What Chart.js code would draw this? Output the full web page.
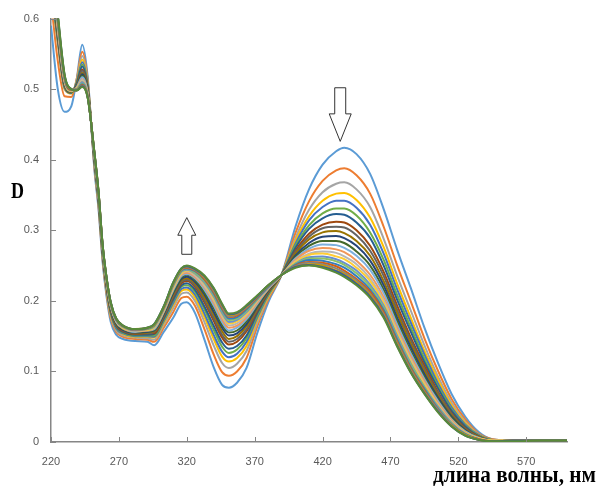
<!DOCTYPE html>
<html>
<head>
<meta charset="utf-8">
<script src="https://cdn.jsdelivr.net/npm/chart.js@4.4.0/dist/chart.umd.min.js"></script>
<style>
  html, body { margin: 0; padding: 0; background: #fff; }
  canvas { display: block; }
</style>
</head>
<body>
<canvas id="chart" width="598" height="490"></canvas>
<script>
// длины волн, нм
const wavelengths = [220,225,230,235,239,243,247, 252,255,258,261,264,268,273,282,291,296, 303,310,316,320,326,333,340,346,351,357, 364,372,380,390,400,410,420,430,436,445, 455,465,475,485,495,505,515,525,535,545, 560,580,600];

// оптическая плотность, спектры по порядку съёмки
const s1  = [0.590,0.500,0.468,0.476,0.515,0.563,0.518, 0.385,0.330,0.255,0.205,0.170,0.152,0.146,0.143,0.142,0.137, 0.156,0.176,0.196,0.198,0.183,0.145,0.105,0.081,0.077,0.084, 0.105,0.155,0.198,0.238,0.305,0.358,0.393,0.412,0.417,0.408, 0.380,0.330,0.272,0.218,0.162,0.112,0.068,0.036,0.014,0.004, 0.002,0.002,0.002];
const s2  = [0.625,0.540,0.490,0.489,0.515,0.553,0.513, 0.389,0.334,0.259,0.209,0.175,0.156,0.149,0.146,0.145,0.142, 0.162,0.184,0.204,0.206,0.193,0.160,0.123,0.099,0.094,0.100, 0.119,0.164,0.202,0.238,0.296,0.341,0.370,0.385,0.388,0.378, 0.352,0.305,0.250,0.199,0.147,0.101,0.061,0.032,0.012,0.004, 0.002,0.002,0.002];
const s3  = [0.640,0.565,0.500,0.494,0.513,0.547,0.510, 0.392,0.337,0.262,0.212,0.178,0.158,0.151,0.148,0.147,0.145, 0.166,0.190,0.210,0.212,0.200,0.170,0.136,0.112,0.105,0.111, 0.129,0.169,0.205,0.238,0.289,0.329,0.354,0.366,0.368,0.358, 0.333,0.288,0.235,0.186,0.137,0.093,0.056,0.029,0.011,0.003, 0.002,0.002,0.002];
const s4  = [0.643,0.567,0.501,0.494,0.511,0.542,0.508, 0.394,0.339,0.264,0.214,0.180,0.160,0.153,0.149,0.149,0.148, 0.169,0.194,0.214,0.216,0.205,0.177,0.145,0.121,0.114,0.119, 0.136,0.174,0.206,0.238,0.285,0.320,0.342,0.352,0.353,0.343, 0.318,0.276,0.224,0.176,0.129,0.088,0.052,0.027,0.010,0.003, 0.002,0.002,0.002];
const s5  = [0.646,0.569,0.502,0.495,0.510,0.538,0.506, 0.395,0.340,0.265,0.216,0.182,0.161,0.154,0.150,0.150,0.149, 0.171,0.197,0.217,0.219,0.209,0.182,0.151,0.128,0.120,0.125, 0.142,0.177,0.208,0.238,0.281,0.314,0.333,0.342,0.342,0.332, 0.308,0.267,0.216,0.169,0.124,0.083,0.049,0.025,0.010,0.003, 0.002,0.002,0.002];
const s6  = [0.649,0.571,0.503,0.495,0.509,0.535,0.504, 0.397,0.342,0.267,0.218,0.183,0.163,0.155,0.151,0.151,0.151, 0.173,0.200,0.220,0.222,0.213,0.188,0.158,0.135,0.126,0.131, 0.147,0.180,0.209,0.238,0.278,0.307,0.324,0.331,0.331,0.321, 0.297,0.258,0.208,0.162,0.118,0.079,0.046,0.023,0.009,0.003, 0.002,0.002,0.002];
const s7  = [0.652,0.573,0.504,0.495,0.508,0.532,0.502, 0.398,0.343,0.268,0.219,0.185,0.164,0.156,0.152,0.152,0.153, 0.175,0.202,0.222,0.225,0.216,0.192,0.164,0.141,0.132,0.136, 0.151,0.183,0.211,0.238,0.275,0.302,0.317,0.323,0.322,0.311, 0.289,0.250,0.201,0.156,0.113,0.076,0.044,0.022,0.008,0.002, 0.002,0.002,0.002];
const s8  = [0.655,0.575,0.505,0.496,0.506,0.528,0.501, 0.400,0.345,0.270,0.221,0.186,0.165,0.157,0.153,0.154,0.154, 0.177,0.205,0.225,0.228,0.220,0.198,0.171,0.148,0.138,0.142, 0.157,0.186,0.212,0.237,0.271,0.295,0.308,0.312,0.311,0.300, 0.278,0.241,0.193,0.148,0.108,0.071,0.041,0.020,0.008,0.002, 0.002,0.002,0.002];
const s9  = [0.658,0.577,0.506,0.496,0.506,0.526,0.499, 0.401,0.346,0.271,0.222,0.187,0.166,0.158,0.154,0.154,0.156, 0.178,0.207,0.227,0.230,0.222,0.201,0.175,0.152,0.142,0.146, 0.160,0.188,0.213,0.237,0.269,0.291,0.303,0.305,0.304,0.293, 0.271,0.235,0.187,0.144,0.104,0.069,0.040,0.019,0.007,0.002, 0.002,0.002,0.002];
const s10 = [0.661,0.579,0.507,0.496,0.505,0.523,0.498, 0.402,0.347,0.272,0.223,0.189,0.167,0.159,0.154,0.155,0.157, 0.180,0.209,0.229,0.232,0.225,0.205,0.180,0.157,0.146,0.150, 0.164,0.190,0.214,0.237,0.267,0.287,0.297,0.299,0.296,0.285, 0.264,0.228,0.182,0.139,0.100,0.066,0.038,0.018,0.007,0.002, 0.002,0.002,0.002];
const s11 = [0.664,0.581,0.508,0.497,0.504,0.521,0.497, 0.403,0.348,0.273,0.224,0.190,0.168,0.159,0.155,0.156,0.158, 0.181,0.211,0.231,0.234,0.227,0.209,0.184,0.162,0.151,0.154, 0.167,0.192,0.215,0.237,0.264,0.282,0.291,0.292,0.289,0.278, 0.257,0.222,0.176,0.134,0.096,0.063,0.036,0.017,0.006,0.002, 0.002,0.002,0.002];
const s12 = [0.667,0.583,0.509,0.497,0.503,0.519,0.496, 0.404,0.349,0.274,0.225,0.191,0.169,0.160,0.156,0.157,0.159, 0.183,0.213,0.233,0.237,0.230,0.212,0.189,0.166,0.155,0.158, 0.171,0.194,0.216,0.237,0.262,0.278,0.285,0.285,0.282,0.270, 0.250,0.216,0.171,0.129,0.092,0.060,0.034,0.016,0.006,0.002, 0.002,0.002,0.002];
const s13 = [0.670,0.585,0.510,0.497,0.503,0.517,0.495, 0.404,0.349,0.274,0.226,0.192,0.170,0.161,0.156,0.158,0.160, 0.184,0.215,0.235,0.238,0.232,0.216,0.193,0.170,0.158,0.162, 0.174,0.196,0.217,0.237,0.260,0.274,0.280,0.279,0.275,0.264, 0.244,0.211,0.166,0.125,0.089,0.058,0.032,0.015,0.006,0.002, 0.002,0.002,0.002];
const s14 = [0.673,0.587,0.511,0.498,0.502,0.514,0.494, 0.405,0.350,0.275,0.227,0.193,0.171,0.161,0.157,0.158,0.161, 0.185,0.217,0.237,0.240,0.234,0.219,0.197,0.174,0.162,0.165, 0.177,0.198,0.217,0.237,0.258,0.271,0.275,0.273,0.269,0.257, 0.237,0.205,0.161,0.121,0.086,0.055,0.031,0.014,0.005,0.002, 0.002,0.002,0.002];
const s15 = [0.676,0.589,0.512,0.498,0.501,0.513,0.493, 0.406,0.351,0.276,0.228,0.194,0.171,0.162,0.157,0.159,0.162, 0.186,0.218,0.238,0.242,0.236,0.221,0.200,0.178,0.165,0.168, 0.180,0.200,0.218,0.237,0.256,0.267,0.270,0.268,0.263,0.252, 0.232,0.201,0.157,0.117,0.083,0.053,0.029,0.013,0.005,0.002, 0.002,0.002,0.002];
const s16 = [0.679,0.591,0.513,0.498,0.501,0.511,0.492, 0.407,0.352,0.277,0.228,0.194,0.172,0.162,0.158,0.159,0.163, 0.187,0.219,0.239,0.243,0.238,0.224,0.203,0.181,0.168,0.171, 0.182,0.201,0.219,0.237,0.255,0.265,0.267,0.263,0.259,0.247, 0.228,0.197,0.154,0.114,0.081,0.052,0.028,0.013,0.005,0.002, 0.002,0.002,0.002];
const s17 = [0.682,0.593,0.514,0.499,0.500,0.510,0.491, 0.407,0.352,0.277,0.229,0.195,0.173,0.163,0.158,0.160,0.164, 0.188,0.221,0.241,0.244,0.239,0.226,0.206,0.183,0.170,0.173, 0.184,0.202,0.219,0.237,0.253,0.262,0.263,0.259,0.254,0.243, 0.223,0.193,0.150,0.111,0.078,0.050,0.027,0.012,0.004,0.001, 0.002,0.002,0.002];
const s18 = [0.685,0.595,0.515,0.499,0.500,0.508,0.491, 0.408,0.353,0.278,0.230,0.196,0.173,0.163,0.159,0.160,0.164, 0.189,0.222,0.242,0.245,0.240,0.228,0.208,0.186,0.173,0.175, 0.186,0.203,0.220,0.237,0.252,0.260,0.260,0.256,0.251,0.239, 0.220,0.190,0.147,0.109,0.077,0.048,0.026,0.011,0.004,0.001, 0.002,0.002,0.002];
const s19 = [0.688,0.597,0.516,0.499,0.499,0.507,0.490, 0.408,0.353,0.278,0.230,0.196,0.173,0.164,0.159,0.161,0.165, 0.190,0.223,0.243,0.246,0.242,0.230,0.210,0.188,0.175,0.177, 0.188,0.204,0.220,0.237,0.251,0.258,0.257,0.252,0.247,0.235, 0.216,0.187,0.145,0.106,0.075,0.047,0.025,0.011,0.004,0.001, 0.002,0.002,0.002];
const s20 = [0.691,0.599,0.517,0.499,0.499,0.506,0.490, 0.409,0.354,0.279,0.231,0.197,0.174,0.164,0.159,0.161,0.166, 0.190,0.224,0.244,0.247,0.243,0.231,0.212,0.190,0.177,0.179, 0.190,0.205,0.221,0.237,0.250,0.255,0.254,0.249,0.243,0.231, 0.213,0.184,0.142,0.104,0.073,0.046,0.024,0.010,0.004,0.001, 0.002,0.002,0.002];
const s21 = [0.694,0.601,0.518,0.500,0.499,0.505,0.489, 0.409,0.354,0.279,0.231,0.197,0.174,0.164,0.159,0.161,0.166, 0.191,0.224,0.244,0.248,0.244,0.233,0.214,0.192,0.178,0.181, 0.191,0.206,0.221,0.237,0.249,0.254,0.252,0.246,0.240,0.229, 0.210,0.181,0.140,0.102,0.071,0.045,0.024,0.010,0.003,0.001, 0.002,0.002,0.002];
const s22 = [0.697,0.603,0.519,0.500,0.498,0.504,0.488, 0.410,0.355,0.280,0.231,0.197,0.175,0.165,0.160,0.162,0.166, 0.191,0.225,0.245,0.249,0.245,0.234,0.216,0.194,0.180,0.182, 0.192,0.207,0.222,0.237,0.248,0.252,0.250,0.243,0.238,0.226, 0.208,0.179,0.138,0.100,0.070,0.043,0.023,0.010,0.003,0.001, 0.002,0.002,0.002];
const s23 = [0.700,0.605,0.520,0.500,0.498,0.504,0.488, 0.410,0.355,0.280,0.232,0.198,0.175,0.165,0.160,0.162,0.167, 0.192,0.226,0.246,0.249,0.245,0.235,0.217,0.195,0.181,0.183, 0.193,0.207,0.222,0.237,0.248,0.251,0.248,0.242,0.236,0.224, 0.206,0.178,0.136,0.099,0.069,0.043,0.022,0.009,0.003,0.001, 0.002,0.002,0.002];
const s24 = [0.703,0.607,0.521,0.500,0.498,0.503,0.488, 0.410,0.355,0.280,0.232,0.198,0.175,0.165,0.160,0.162,0.167, 0.192,0.226,0.246,0.250,0.246,0.236,0.218,0.196,0.182,0.184, 0.194,0.208,0.222,0.237,0.247,0.250,0.247,0.240,0.234,0.222, 0.204,0.176,0.135,0.098,0.068,0.042,0.022,0.009,0.003,0.001, 0.001,0.002,0.002];

const spectra = [s1, s2, s3, s4, s5, s6, s7, s8, s9, s10, s11, s12,
                 s13, s14, s15, s16, s17, s18, s19, s20, s21, s22, s23, s24];

// Excel-Palette
const seriesColors = ['#5B9BD5','#ED7D31','#A5A5A5','#FFC000','#4472C4','#70AD47',
                      '#255E91','#9E480E','#636363','#997300','#264478','#43682B',
                      '#7CAFDD','#F1975A','#B7B7B7','#FFCD33','#698ED0','#8CC168',
                      '#327DC2','#D26012','#848484','#CC9A00','#335AA1','#5A8A39'];

const xTicks = [220, 270, 320, 370, 420, 470, 520, 570];
const yTicks = [0, 0.1, 0.2, 0.3, 0.4, 0.5, 0.6];
const yTickLabels = ['0', '0.1', '0.2', '0.3', '0.4', '0.5', '0.6'];

// Pfeile (Position in Achsen-Einheiten)
const arrows = [
    { x: 433, tail: 0.502, neck: 0.465, tip: 0.426, shaft: 5.5, head: 11 },
    { x: 320, tail: 0.266, neck: 0.293, tip: 0.318, shaft: 5, head: 9 }
];

const axisColor = '#868686';
const tickFont = { family: '"Liberation Sans", Arial, sans-serif', size: 11 };

const decor = {
    id: 'decor',
    afterDraw(chart) {
        const { ctx, scales: { x, y } } = chart;
        ctx.save();

        // kurze Striche nach innen
        ctx.strokeStyle = axisColor;
        ctx.lineWidth = 1;
        xTicks.forEach(v => {
            const px = Math.round(x.getPixelForValue(v)) + 0.5;
            ctx.beginPath();
            ctx.moveTo(px, y.bottom);
            ctx.lineTo(px, y.bottom - 5);
            ctx.stroke();
        });
        yTicks.forEach(v => {
            const py = Math.round(y.getPixelForValue(v)) + 0.5;
            ctx.beginPath();
            ctx.moveTo(x.left, py);
            ctx.lineTo(x.left + 5, py);
            ctx.stroke();
        });

        // Pfeile
        arrows.forEach(a => {
            const cx = x.getPixelForValue(a.x);
            const tail = y.getPixelForValue(a.tail);
            const neck = y.getPixelForValue(a.neck);
            const tip = y.getPixelForValue(a.tip);
            ctx.beginPath();
            ctx.moveTo(cx - a.shaft, tail);
            ctx.lineTo(cx + a.shaft, tail);
            ctx.lineTo(cx + a.shaft, neck);
            ctx.lineTo(cx + a.head, neck);
            ctx.lineTo(cx, tip);
            ctx.lineTo(cx - a.head, neck);
            ctx.lineTo(cx - a.shaft, neck);
            ctx.closePath();
            ctx.fillStyle = '#fff';
            ctx.fill();
            ctx.strokeStyle = '#333';
            ctx.lineWidth = 1;
            ctx.stroke();
        });

        // Achsentitel
        ctx.fillStyle = '#000';
        ctx.font = 'bold 24px "Liberation Serif", "Times New Roman", serif';
        ctx.textBaseline = 'alphabetic';
        ctx.save();
        ctx.translate(11, 198);
        ctx.scale(0.75, 1);
        ctx.fillText('D', 0, 0);
        ctx.restore();

        const title = 'длина волны, нм';
        const w = ctx.measureText(title).width;
        ctx.save();
        ctx.translate(433, 482);
        ctx.scale(163 / w, 1);
        ctx.fillText(title, 0, 0);
        ctx.restore();

        ctx.restore();
    }
};

const datasets = spectra.map((values, i) => ({
    label: 'spectrum ' + (i + 1),
    data: values.map((v, k) => ({ x: wavelengths[k], y: v })),
    borderColor: seriesColors[i],
    backgroundColor: seriesColors[i],
    borderWidth: 2,
    pointRadius: 0,
    fill: false,
    cubicInterpolationMode: 'monotone',
    clip: 0,
    order: spectra.length - i
}));

new Chart(document.getElementById('chart'), {
    type: 'line',
    data: { datasets: datasets },
    options: {
        responsive: false,
        animation: false,
        events: [],
        layout: { padding: { left: 0, top: 18, right: 31, bottom: 0 } },
        plugins: {
            legend: { display: false },
            tooltip: { enabled: false }
        },
        scales: {
            x: {
                type: 'linear',
                min: 220,
                max: 600,
                grid: { display: false, drawTicks: false },
                border: { color: axisColor, width: 1.5 },
                afterBuildTicks: scale => { scale.ticks = xTicks.map(v => ({ value: v })); },
                afterFit: scale => { scale.height = 48; },
                ticks: {
                    color: '#595959',
                    font: tickFont,
                    padding: 13,
                    maxRotation: 0,
                    autoSkip: false,
                    callback: v => String(v)
                }
            },
            y: {
                min: 0,
                max: 0.6,
                grid: { display: false, drawTicks: false },
                border: { color: axisColor, width: 1.5 },
                afterBuildTicks: scale => { scale.ticks = yTicks.map(v => ({ value: v })); },
                afterFit: scale => { scale.width = 51; },
                ticks: {
                    color: '#595959',
                    font: tickFont,
                    padding: 12,
                    autoSkip: false,
                    callback: (v, idx) => yTickLabels[idx]
                }
            }
        }
    },
    plugins: [decor]
});
</script>
</body>
</html>
